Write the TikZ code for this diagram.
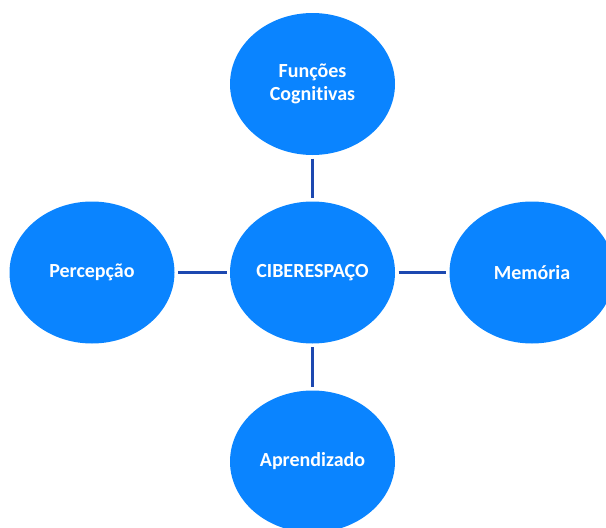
\documentclass[tikz,border=0pt]{standalone}
\usepackage{fontspec}
\setmainfont[Ligatures={NoCommon}]{Carlito}
\usetikzlibrary{shapes.geometric}
\definecolor{bubble}{RGB}{10,132,255}
\definecolor{linkc}{RGB}{28,72,176}
\begin{document}
\begin{tikzpicture}[x=1pt,y=-1pt,
  bubble/.style={ellipse,fill=bubble,draw=none,minimum width=165pt,minimum height=142pt,
    inner sep=0pt,outer sep=0pt,text=white,font=\fontsize{20}{23}\selectfont\bfseries,align=center},
  link/.style={draw=linkc,line width=2.7pt,shorten <=3.5pt,shorten >=3.5pt}]
\path[use as bounding box] (0,0) rectangle (606,528);
\begin{scope}
\clip (0,0) rectangle (606,528);
\node[bubble] (top) at (312.5,84) {Funções\\Cognitivas};
\node[bubble] (mid) at (312.5,272.5) {CIBERESPAÇO};
\node[bubble] (left) at (92,272.5) {Percepção};
\node[bubble] (right) at (532,272.5) {Memória};
\node[bubble] (bot) at (312.5,461.5) {Aprendizado};
\end{scope}
\draw[link] (top.south) -- (mid.north);
\draw[link] (mid.south) -- (bot.north);
\draw[link] (left.east) -- (mid.west);
\draw[link] (mid.east) -- (right.west);
\end{tikzpicture}
\end{document}
